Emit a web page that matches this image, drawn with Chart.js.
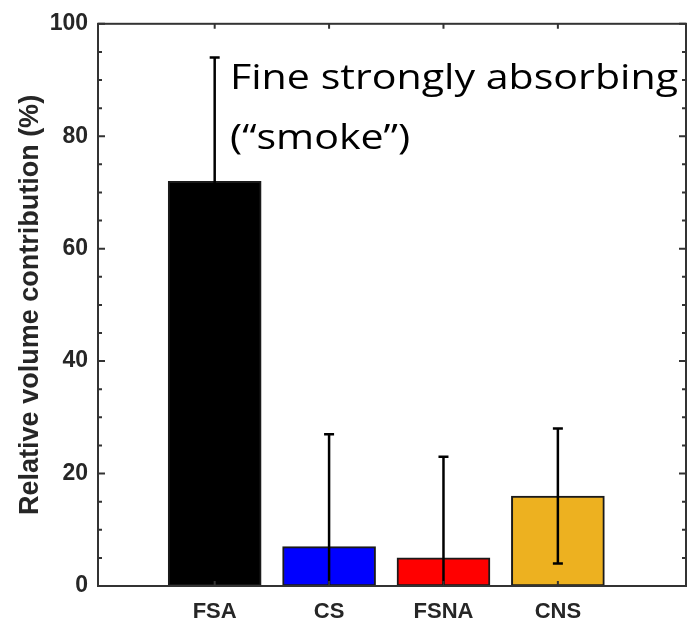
<!DOCTYPE html>
<html>
<head>
<meta charset="utf-8">
<script src="https://cdn.jsdelivr.net/npm/chart.js@4"></script>
<style>
  html, body { margin: 0; padding: 0; background: #fff; }
  #wrap { width: 688px; height: 623px; }
</style>
</head>
<body>
<div id="wrap"><canvas id="chart" width="688" height="623"></canvas></div>
<script>
// Data
const categories = ['FSA', 'CS', 'FSNA', 'CNS'];
const contribution = [72, 7, 5, 16];
const errLow = [50, -13, -13, 4];
const errHigh = [94, 27, 23, 28];
const barColors = ['#000000', '#0000ff', '#ff0000', '#edb120'];
const yTicks = [0, 20, 40, 60, 80, 100];
const noteLines = ['Fine strongly absorbing', '(\u201csmoke\u201d)'];

const axisColor = '#333333';
const textColor = '#262626';

// Error bars, box outline, inward ticks and the annotation
const extrasPlugin = {
    id: 'extras',
    afterDatasetsDraw(chart) {
        const ctx = chart.ctx;
        const xs = chart.scales.x;
        const ys = chart.scales.y;
        const area = chart.chartArea;

        // error bars
        ctx.save();
        ctx.beginPath();
        ctx.rect(area.left, area.top - 2, area.right - area.left, area.bottom - area.top + 2);
        ctx.clip();
        ctx.strokeStyle = '#000';
        ctx.lineWidth = 2.5;
        for (let i = 0; i < categories.length; i++) {
            const x = xs.getPixelForValue(i + 1);
            const yl = ys.getPixelForValue(errLow[i]);
            const yh = ys.getPixelForValue(errHigh[i]);
            ctx.beginPath();
            ctx.moveTo(x, yl);
            ctx.lineTo(x, yh);
            ctx.moveTo(x - 5, yh);
            ctx.lineTo(x + 5, yh);
            ctx.moveTo(x - 5, yl);
            ctx.lineTo(x + 5, yl);
            ctx.stroke();
        }
        ctx.restore();

        // inward ticks
        ctx.save();
        ctx.strokeStyle = axisColor;
        ctx.lineWidth = 2;
        ctx.beginPath();
        for (let v = 0; v <= 100; v += 5) {
            const y = ys.getPixelForValue(v);
            const len = v % 20 === 0 ? 7 : 4;
            ctx.moveTo(area.left, y);
            ctx.lineTo(area.left + len, y);
            ctx.moveTo(area.right, y);
            ctx.lineTo(area.right - len, y);
        }
        for (let i = 0; i < categories.length; i++) {
            const x = xs.getPixelForValue(i + 1);
            ctx.moveTo(x, area.bottom);
            ctx.lineTo(x, area.bottom - 5);
            ctx.moveTo(x, area.top);
            ctx.lineTo(x, area.top + 5);
        }
        ctx.stroke();

        // box
        ctx.lineWidth = 2;
        ctx.strokeRect(area.left, area.top, area.right - area.left, area.bottom - area.top);
        ctx.restore();

        // annotation (the figure is stretched sideways, so stretch the text to its width)
        ctx.save();
        ctx.fillStyle = '#000';
        ctx.font = '35px "Open Sans", "Noto Sans", sans-serif';
        ctx.textBaseline = 'alphabetic';
        ctx.textAlign = 'left';
        const sx = 448 / ctx.measureText(noteLines[0]).width;
        ctx.translate(230, 0);
        ctx.scale(sx, 1);
        ctx.fillText(noteLines[0], 0, 89);
        ctx.fillText(noteLines[1], 0, 149);
        ctx.restore();
    }
};

const ctx = document.getElementById('chart').getContext('2d');
new Chart(ctx, {
    type: 'bar',
    data: {
        datasets: [{
            data: contribution.map((v, i) => ({ x: i + 1, y: v })),
            backgroundColor: barColors,
            borderColor: '#1a1a1a',
            borderWidth: 2,
            borderSkipped: false,
            barThickness: 93
        }]
    },
    options: {
        responsive: false,
        animation: false,
        layout: { padding: { top: 22, right: 2, left: 0, bottom: 0 } },
        plugins: {
            legend: { display: false },
            tooltip: { enabled: false }
        },
        scales: {
            x: {
                type: 'linear',
                offset: false,
                min: -0.02,
                max: 5.12,
                afterBuildTicks: axis => {
                    axis.ticks = categories.map((c, i) => ({ value: i + 1 }));
                },
                afterFit: axis => { axis.height = 37; },
                ticks: {
                    padding: 13,
                    color: textColor,
                    font: { family: 'Liberation Sans, Arial, sans-serif', size: 22, weight: 'bold' },
                    callback: v => categories[v - 1]
                },
                grid: { display: false, drawTicks: false, tickLength: 0 },
                border: { display: false }
            },
            y: {
                min: 0,
                max: 100,
                afterBuildTicks: axis => {
                    axis.ticks = yTicks.map(v => ({ value: v }));
                },
                afterFit: axis => { axis.width = 98; },
                ticks: {
                    padding: 10,
                    color: textColor,
                    font: { family: 'Liberation Sans, Arial, sans-serif', size: 23, weight: 'bold' }
                },
                title: {
                    display: true,
                    text: 'Relative volume contribution (%)',
                    color: textColor,
                    padding: { top: 14, bottom: 0 },
                    font: { family: 'Liberation Sans, Arial, sans-serif', size: 27, weight: 'bold' }
                },
                grid: { display: false, drawTicks: false, tickLength: 0 },
                border: { display: false }
            }
        }
    },
    plugins: [extrasPlugin]
});
</script>
</body>
</html>
